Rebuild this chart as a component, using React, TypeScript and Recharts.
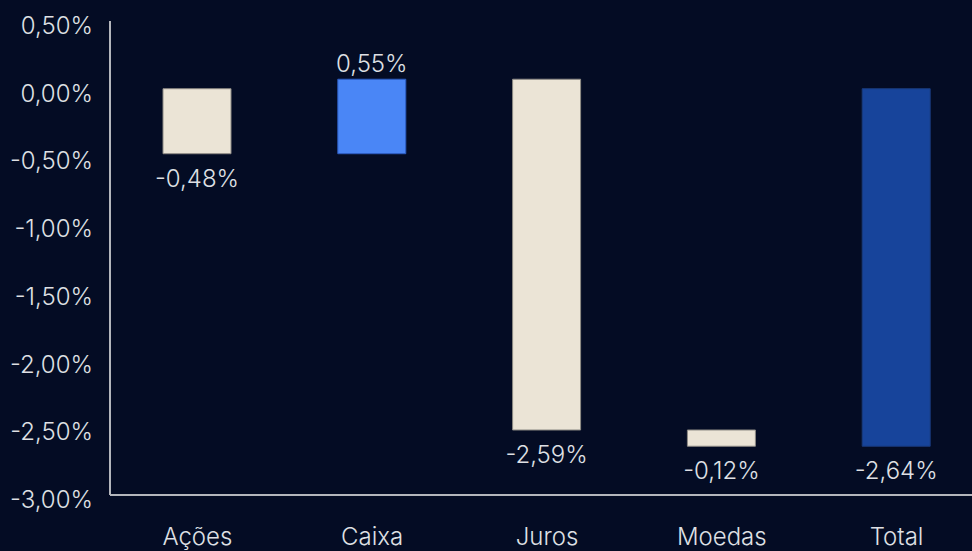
import React from 'react';
import { BarChart, Bar, XAxis, YAxis, Cell, LabelList } from 'recharts';

const categories = ['Ações', 'Caixa', 'Juros', 'Moedas', 'Total'];
const values = [-0.48, 0.55, -2.59, -0.12, -2.64];
const isTotal = [false, false, false, false, true];
const yTicks = [0.5, 0, -0.5, -1, -1.5, -2, -2.5, -3];

const BG = '#040c24';
const TEXT = '#dfe0e4';
const AXIS = '#b4b6bc';
const FONT = 'Inter, "Noto Sans", sans-serif';

const fmt = (v: number) => v.toFixed(2).replace('.', ',') + '%';

const barFill = (v: number, total: boolean) => (total ? '#17449b' : v >= 0 ? '#4a86f6' : '#ebe4d6');
const barStroke = (v: number, total: boolean) => (total ? '#1a3a7c' : v >= 0 ? '#2c5cc0' : '#8d8a84');

// waterfall: each step floats from the running total, the total bar starts at zero
let running = 0;
const data = categories.map((name, i) => {
  const v = values[i];
  let lo: number;
  let hi: number;
  if (isTotal[i]) {
    lo = Math.min(0, v);
    hi = Math.max(0, v);
  } else {
    const next = running + v;
    lo = Math.min(running, next);
    hi = Math.max(running, next);
    running = next;
  }
  return { name, value: v, range: [lo, hi] };
});

const YTick = ({ x, y, payload }: any) => (
  <text x={x} y={y + 13} textAnchor="end" fill={TEXT} fontSize={24} fontWeight={300} fontFamily={FONT}>
    {fmt(payload.value)}
  </text>
);

const XTick = ({ x, y, payload }: any) => (
  <text x={x} y={y + 50} textAnchor="middle" fill={TEXT} fontSize={24} fontWeight={300} fontFamily={FONT}>
    {payload.value}
  </text>
);

const ValueLabel = (props: any) => {
  const { x, y, width, height, index } = props;
  const v = values[index];
  const cx = Number(x) + Number(width) / 2;
  const top = Number(y);
  const bottom = Number(y) + Number(height);
  const ty = v >= 0 ? top - 7 : bottom + 33;
  return (
    <text x={cx} y={ty} textAnchor="middle" fill={TEXT} fontSize={24} fontWeight={300} fontFamily={FONT}>
      {fmt(v)}
    </text>
  );
};

export default function App() {
  return (
    <div style={{ position: 'fixed', left: 0, top: 0, width: 972, height: 551, overflow: 'hidden', background: BG }}>
      <BarChart width={1000} height={551} data={data} margin={{ top: 21, right: 16, bottom: 16, left: 0 }}>
        <XAxis
          dataKey="name"
          axisLine={{ stroke: AXIS, strokeWidth: 2 }}
          tickLine={false}
          tickSize={0}
          tickMargin={0}
          height={40}
          tick={<XTick />}
          interval={0}
        />
        <YAxis
          type="number"
          domain={[-3, 0.5]}
          ticks={yTicks}
          width={110}
          axisLine={{ stroke: AXIS, strokeWidth: 2 }}
          tickLine={false}
          tickSize={0}
          tickMargin={17}
          tick={<YTick />}
          allowDataOverflow
        />
        <Bar dataKey="range" barSize={68} isAnimationActive={false}>
          {data.map((d, i) => (
            <Cell key={d.name} fill={barFill(d.value, isTotal[i])} stroke={barStroke(d.value, isTotal[i])} strokeWidth={1} />
          ))}
          <LabelList dataKey="value" content={<ValueLabel />} />
        </Bar>
      </BarChart>
    </div>
  );
}
